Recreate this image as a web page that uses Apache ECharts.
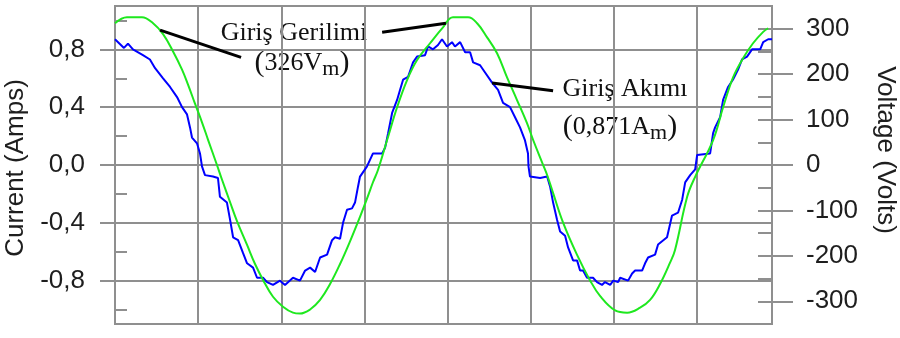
<!DOCTYPE html>
<html>
<head>
<meta charset="utf-8">
<script src="https://cdn.jsdelivr.net/npm/echarts@6/dist/echarts.min.js"></script>
<style>
  html, body { margin: 0; padding: 0; background: #fff; }
  #chart { width: 900px; height: 338px; }
</style>
</head>
<body>
<div id="chart"></div>
<script>
// time axis in ms, grid every 5 ms
const timeCur = [0.00, 0.54, 0.78, 1.08, 1.68, 2.10, 2.41, 2.89, 3.31, 3.73, 4.03, 4.33, 4.51, 4.63, 4.93, 5.11, 5.23, 5.41, 5.89, 6.19,
  6.31, 6.73, 6.92, 7.10, 7.40, 7.70, 7.94, 8.30, 8.54, 8.90, 9.14, 9.50, 9.92, 10.22, 10.70, 11.12, 11.43, 11.73, 12.03, 12.33,
  12.75, 13.05, 13.23, 13.53, 13.71, 13.95, 14.25, 14.43, 14.61, 14.73, 15.03, 15.15, 15.51, 16.06, 16.24, 16.42, 16.66, 16.96, 17.14, 17.32,
  17.62, 17.92, 18.16, 18.64, 18.82, 19.12, 19.42, 19.66, 19.96, 20.26, 20.44, 20.75, 21.05, 21.35, 21.53, 21.95, 22.25, 22.67, 23.03, 23.33,
  23.75, 24.05, 24.35, 24.65, 24.83, 24.86, 24.95, 25.56, 25.98, 26.16, 26.34, 26.58, 26.76, 27.06, 27.24, 27.54, 27.78, 27.96, 28.14, 28.38,
  28.74, 28.98, 29.28, 29.46, 29.77, 29.95, 30.25, 30.37, 30.85, 31.09, 31.27, 31.69, 31.87, 32.05, 32.47, 32.65, 33.19, 33.49, 33.85, 34.10,
  34.28, 34.58, 34.88, 35.00, 35.78, 35.96, 36.08, 36.38, 36.56, 36.86, 37.15, 37.46, 37.70, 38.00, 38.30, 38.79, 38.97, 39.27, 39.50];
const current = [0.87, 0.81, 0.84, 0.80, 0.76, 0.73, 0.67, 0.60, 0.54, 0.47, 0.40, 0.35, 0.26, 0.19, 0.15, 0.08, -0.01, -0.07, -0.08, -0.09,
  -0.22, -0.26, -0.38, -0.50, -0.52, -0.61, -0.68, -0.71, -0.78, -0.78, -0.81, -0.83, -0.80, -0.83, -0.78, -0.80, -0.73, -0.71, -0.74, -0.64,
  -0.62, -0.52, -0.50, -0.51, -0.40, -0.31, -0.30, -0.26, -0.15, -0.08, -0.03, -0.01, 0.08, 0.08, 0.12, 0.22, 0.36, 0.45, 0.52, 0.59,
  0.61, 0.71, 0.75, 0.76, 0.82, 0.80, 0.83, 0.87, 0.82, 0.85, 0.82, 0.85, 0.78, 0.78, 0.71, 0.69, 0.64, 0.57, 0.52, 0.43,
  0.40, 0.33, 0.26, 0.17, 0.08, -0.01, -0.08, -0.09, -0.08, -0.15, -0.26, -0.38, -0.46, -0.49, -0.57, -0.66, -0.66, -0.73, -0.73, -0.78,
  -0.78, -0.81, -0.83, -0.81, -0.83, -0.80, -0.81, -0.78, -0.80, -0.75, -0.73, -0.73, -0.68, -0.64, -0.62, -0.55, -0.50, -0.35, -0.33, -0.24,
  -0.12, -0.07, -0.03, 0.07, 0.08, 0.22, 0.26, 0.33, 0.45, 0.54, 0.59, 0.66, 0.73, 0.75, 0.80, 0.80, 0.85, 0.87, 0.87];

const timeVolt = [0.00, 0.72, 1.62, 2.29, 2.89, 3.49, 4.03, 4.39, 4.81, 5.23, 5.59, 6.13, 6.43, 6.92, 7.34, 7.94, 8.42, 8.90, 9.50, 10.10,
  10.70, 11.12, 11.73, 12.33, 12.93, 13.53, 14.13, 14.73, 15.15, 15.51, 15.81, 16.36, 16.96, 17.56, 18.16, 18.94, 19.72, 20.32, 21.23, 21.77,
  22.37, 22.97, 23.57, 24.17, 24.77, 25.14, 25.74, 25.98, 26.34, 26.94, 27.78, 28.56, 29.16, 30.07, 30.79, 31.57, 32.17, 32.77, 33.37, 33.67,
  34.40, 34.88, 35.96, 36.56, 37.16, 37.76, 38.36, 38.97, 39.27];
const voltage = [312, 325, 325, 312, 288, 250, 210, 177, 135, 94, 56, 0, -32, -82, -124, -176, -218, -253, -290, -312,
  -325, -327, -318, -297, -262, -218, -168, -114, -74, -38, -11, 55, 127, 187, 231, 268, 303, 325, 325, 312,
  281, 246, 193, 143, 92, 55, 0, -22, -62, -127, -198, -254, -288, -320, -325, -314, -297, -262, -215, -187,
  -70, -26, 55, 127, 193, 235, 268, 293, 301];

const ampTicks = [-0.8, -0.4, 0, 0.4, 0.8];
const ampMinor = [-1.0, -0.6, -0.2, 0.2, 0.6, 1.0];
const voltTicks = [-300, -200, -100, 0, 100, 200, 300];
const voltMinor = [-300, -250, -200, -150, -100, -50, 0, 50, 100, 150, 200, 250, 300];
const timeTicks = [5, 10, 15, 20, 25, 30, 35];

const gray = '#8f8f8f';
const txt = '#1e1e1e';

const chart = echarts.init(document.getElementById('chart'));

const lbl = { fontFamily: 'Liberation Sans', fontSize: 26, color: txt };
const nameStyle = { fontFamily: 'Liberation Sans', fontSize: 26, color: txt };

chart.setOption({
  animation: false,
  backgroundColor: '#fff',
  grid: {
    left: 115, right: 128, top: 6, bottom: 14,
    show: true, borderColor: gray, borderWidth: 2,
    outerBoundsMode: 'none'
  },
  xAxis: {
    type: 'value', min: 0, max: 39.5,
    axisLine: { show: false },
    axisTick: { show: true, customValues: timeTicks, length: 14, lineStyle: { color: gray, width: 2 } },
    axisLabel: { show: false },
    splitLine: { show: true, lineStyle: { color: gray, width: 2 } }
  },
  yAxis: [
    {
      type: 'value', min: -1.1, max: 1.1, position: 'left',
      name: 'Current (Amps)', nameLocation: 'middle', nameRotate: 90, nameGap: 81,
      nameTextStyle: Object.assign({ padding: [0, 6, 0, 0] }, nameStyle),
      axisLine: { show: false },
      axisTick: { show: true, customValues: ampTicks, length: 15, lineStyle: { color: gray, width: 2 } },
      axisLabel: Object.assign({ customValues: ampTicks, margin: 30, formatter: v => v.toFixed(1).replace('.', ',') }, lbl),
      splitLine: { show: true, lineStyle: { color: gray, width: 2 } }
    },
    {
      type: 'value', min: -1.1, max: 1.1, position: 'left',
      axisLine: { show: false },
      axisTick: { show: true, inside: true, customValues: ampMinor, length: 12, lineStyle: { color: gray, width: 2 } },
      axisLabel: { show: false },
      splitLine: { show: false }
    },
    {
      type: 'value', min: -350, max: 350, position: 'right',
      name: 'Voltage (Volts)', nameLocation: 'middle', nameRotate: -90, nameGap: 100,
      nameTextStyle: Object.assign({ padding: [0, 30, 0, 0] }, nameStyle),
      axisLine: { show: false },
      axisTick: { show: true, customValues: voltTicks, length: 21, lineStyle: { color: gray, width: 2 } },
      axisLabel: Object.assign({ customValues: voltTicks, margin: 34 }, lbl),
      splitLine: { show: false }
    },
    {
      type: 'value', min: -350, max: 350, position: 'right',
      axisLine: { show: false },
      axisTick: { show: true, inside: true, customValues: voltMinor, length: 14, lineStyle: { color: gray, width: 2 } },
      axisLabel: { show: false },
      splitLine: { show: false }
    }
  ],
  series: [
    {
      type: 'line', yAxisIndex: 0, symbol: 'none',
      data: timeCur.map((t, i) => [t, current[i]]),
      lineStyle: { color: '#0000ff', width: 2 },
      markLine: {
        silent: true, symbol: 'none',
        lineStyle: { color: '#000', width: 3, type: 'solid' },
        label: { show: false },
        data: [[{ coord: [22.67, 0.568] }, { coord: [26.34, 0.513] }]]
      }
    },
    {
      type: 'line', yAxisIndex: 2, symbol: 'none', smooth: 0.4,
      data: timeVolt.map((t, i) => [t, voltage[i]]),
      lineStyle: { color: '#1ee81e', width: 2 },
      markLine: {
        silent: true, symbol: 'none',
        lineStyle: { color: '#000', width: 3, type: 'solid' },
        label: { show: false },
        data: [
          [{ coord: [2.71, 297] }, { coord: [7.58, 237] }],
          [{ coord: [16.06, 292] }, { coord: [19.90, 312] }]
        ]
      }
    }
  ],
  graphic: [
    {
      type: 'text', x: 294, y: 33,
      style: { text: 'Giriş Gerilimi', font: '26px "Liberation Serif"', fill: '#111', align: 'center', verticalAlign: 'middle' }
    },
    {
      type: 'text', x: 302, y: 63,
      style: {
        text: '{p|(}326V{s|m}{p|)}', font: '26px "Liberation Serif"', fill: '#111', align: 'center', verticalAlign: 'middle',
        rich: {
          p: { fontFamily: 'Liberation Serif', fontSize: 30 },
          s: { fontFamily: 'Liberation Serif', fontSize: 22, padding: [12, 0, 0, 0] }
        }
      }
    },
    {
      type: 'text', x: 625, y: 89,
      style: { text: 'Giriş Akımı', font: '26px "Liberation Serif"', fill: '#111', align: 'center', verticalAlign: 'middle' }
    },
    {
      type: 'text', x: 620, y: 127,
      style: {
        text: '{p|(}0,871A{s|m}{p|)}', font: '26px "Liberation Serif"', fill: '#111', align: 'center', verticalAlign: 'middle',
        rich: {
          p: { fontFamily: 'Liberation Serif', fontSize: 30 },
          s: { fontFamily: 'Liberation Serif', fontSize: 22, padding: [12, 0, 0, 0] }
        }
      }
    }
  ]
});
</script>
</body>
</html>
